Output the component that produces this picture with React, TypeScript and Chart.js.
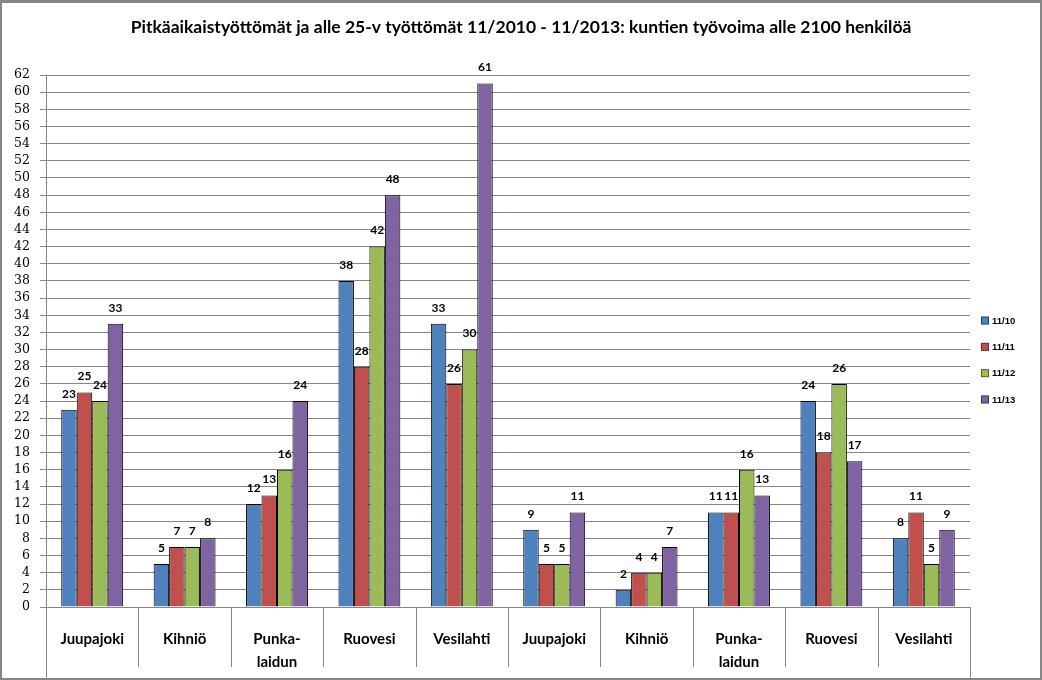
import React, { useEffect, useRef } from "react";
import { Chart, registerables } from "chart.js";

Chart.register(...registerables);

const categories: (string | string[])[] = [
  "Juupajoki", "Kihniö", ["Punka-", "laidun"], "Ruovesi", "Vesilahti",
  "Juupajoki", "Kihniö", ["Punka-", "laidun"], "Ruovesi", "Vesilahti",
];
const seriesNames = ["11/10", "11/11", "11/12", "11/13"];
const s1110 = [23, 5, 12, 38, 33, 9, 2, 11, 24, 8];
const s1111 = [25, 7, 13, 28, 26, 5, 4, 11, 18, 11];
const s1112 = [24, 7, 16, 42, 30, 5, 4, 16, 26, 5];
const s1113 = [33, 8, 24, 48, 61, 11, 7, 13, 17, 9];
const titleText = "Pitkäaikaistyöttömät ja alle 25-v työttömät 11/2010 - 11/2013: kuntien työvoima alle 2100 henkilöä";
const yMin = 0;
const yMax = 62;
const yStep = 2;

const COLORS = ["#4F81BD", "#C0504D", "#9BBB59", "#8064A2"];
const GRID = "#868686";

const framePlugin = {
  id: "frame",
  beforeDraw(chart: any) {
    const { ctx, width, height } = chart;
    ctx.save();
    ctx.fillStyle = "#ffffff";
    ctx.fillRect(0, 0, width, height);
    ctx.restore();
  },
  afterDraw(chart: any) {
    const { ctx, width, height } = chart;
    ctx.save();
    ctx.fillStyle = "#868686";
    ctx.fillRect(0, 0, width, 3);
    ctx.fillRect(0, 0, 2, height);
    ctx.fillRect(width - 2, 0, 2, height);
    ctx.fillRect(0, height - 2, width, 2);
    ctx.restore();
  },
};

const separatorsPlugin = {
  id: "separators",
  afterDraw(chart: any) {
    const { ctx, chartArea, height } = chart;
    const xs = chart.scales.x;
    const n = chart.data.labels.length;
    const step = (xs.right - xs.left) / n;
    ctx.save();
    ctx.strokeStyle = GRID;
    ctx.lineWidth = 1;
    for (let i = 0; i <= n; i++) {
      const x = Math.round(xs.left + i * step) + 0.5;
      const end = i === 0 || i === n ? height : chartArea.bottom + 60;
      ctx.beginPath();
      ctx.moveTo(x, chartArea.bottom);
      ctx.lineTo(x, end);
      ctx.stroke();
    }
    ctx.restore();
  },
};

const dataLabelsPlugin = {
  id: "dataLabels",
  afterDatasetsDraw(chart: any) {
    const { ctx } = chart;
    ctx.save();
    ctx.font = "bold 12px Lato";
    ctx.fillStyle = "#000";
    ctx.textAlign = "center";
    ctx.textBaseline = "middle";
    chart.data.datasets.forEach((ds: any, di: number) => {
      const meta = chart.getDatasetMeta(di);
      meta.data.forEach((el: any, i: number) => {
        ctx.fillText(String(ds.data[i]), el.x, el.y - 16);
      });
    });
    ctx.restore();
  },
};

const legendPlugin = {
  id: "customLegend",
  afterDraw(chart: any) {
    const { ctx, chartArea } = chart;
    const ds = chart.data.datasets;
    const spacing = 26.3;
    const cy = (chartArea.top + chartArea.bottom) / 2 + 19;
    const y0 = cy - (spacing * (ds.length - 1)) / 2;
    const bx = chartArea.right + 11;
    ctx.save();
    ctx.font = "bold 9.5px 'Liberation Sans'";
    ctx.textBaseline = "middle";
    ctx.textAlign = "left";
    ds.forEach((d: any, i: number) => {
      const y = y0 + i * spacing;
      ctx.fillStyle = d.backgroundColor;
      ctx.fillRect(bx, y - 4, 8, 8);
      ctx.strokeStyle = "rgba(0,0,0,0.45)";
      ctx.lineWidth = 1;
      ctx.strokeRect(bx + 0.5, y - 3.5, 7, 7);
      ctx.fillStyle = "#000";
      ctx.fillText(d.label, bx + 11, y + 0.5);
    });
    ctx.restore();
  },
};

export default function App() {
  const ref = useRef<HTMLCanvasElement | null>(null);

  useEffect(() => {
    document.body.style.margin = "0";
    const canvas = ref.current;
    if (!canvas) return;
    const seriesData = [s1110, s1111, s1112, s1113];
    const chart = new Chart(canvas, {
      type: "bar",
      data: {
        labels: categories,
        datasets: seriesData.map((d, i) => ({
          label: seriesNames[i],
          data: d,
          backgroundColor: COLORS[i],
          borderColor: "#000",
          borderWidth: 1,
          categoryPercentage: 0.67,
          barPercentage: 1,
        })),
      },
      options: {
        animation: false,
        responsive: true,
        maintainAspectRatio: false,
        layout: { padding: { left: 0, right: 0, top: 0, bottom: 0 } },
        plugins: {
          legend: { display: false },
          tooltip: { enabled: false },
          title: {
            display: true,
            text: titleText,
            color: "#000",
            font: { family: "Lato", size: 17.5, weight: "bold", lineHeight: 1.2 },
            padding: { top: 17, bottom: 37 },
          },
        },
        scales: {
          x: {
            grid: { display: false },
            border: { display: true, color: GRID, width: 1 },
            ticks: {
              color: "#000",
              font: { family: "Lato", size: 15, weight: "bold", lineHeight: "23px" },
              padding: 13,
              maxRotation: 0,
              autoSkip: false,
            },
            afterFit(scale: any) {
              scale.height = 73;
            },
          },
          y: {
            min: yMin,
            max: yMax,
            grid: { color: GRID, lineWidth: 1, tickLength: 6, drawTicks: true },
            border: { display: true, color: GRID, width: 1 },
            ticks: {
              stepSize: yStep,
              autoSkip: false,
              color: "#000",
              font: { family: "'DejaVu Serif'", size: 12.5 },
              padding: 10,
            },
            afterFit(scale: any) {
              scale.width = 46;
            },
          },
          legendSpace: {
            type: "linear",
            position: "right",
            display: true,
            grid: { display: false },
            border: { display: false },
            ticks: { display: false },
            afterFit(scale: any) {
              scale.width = 72;
            },
          },
        },
      },
      plugins: [framePlugin, separatorsPlugin, dataLabelsPlugin, legendPlugin],
    } as any);
    return () => chart.destroy();
  }, []);

  return (
    <div style={{ width: 1042, height: 680, position: "relative" }}>
      <canvas ref={ref} />
    </div>
  );
}
